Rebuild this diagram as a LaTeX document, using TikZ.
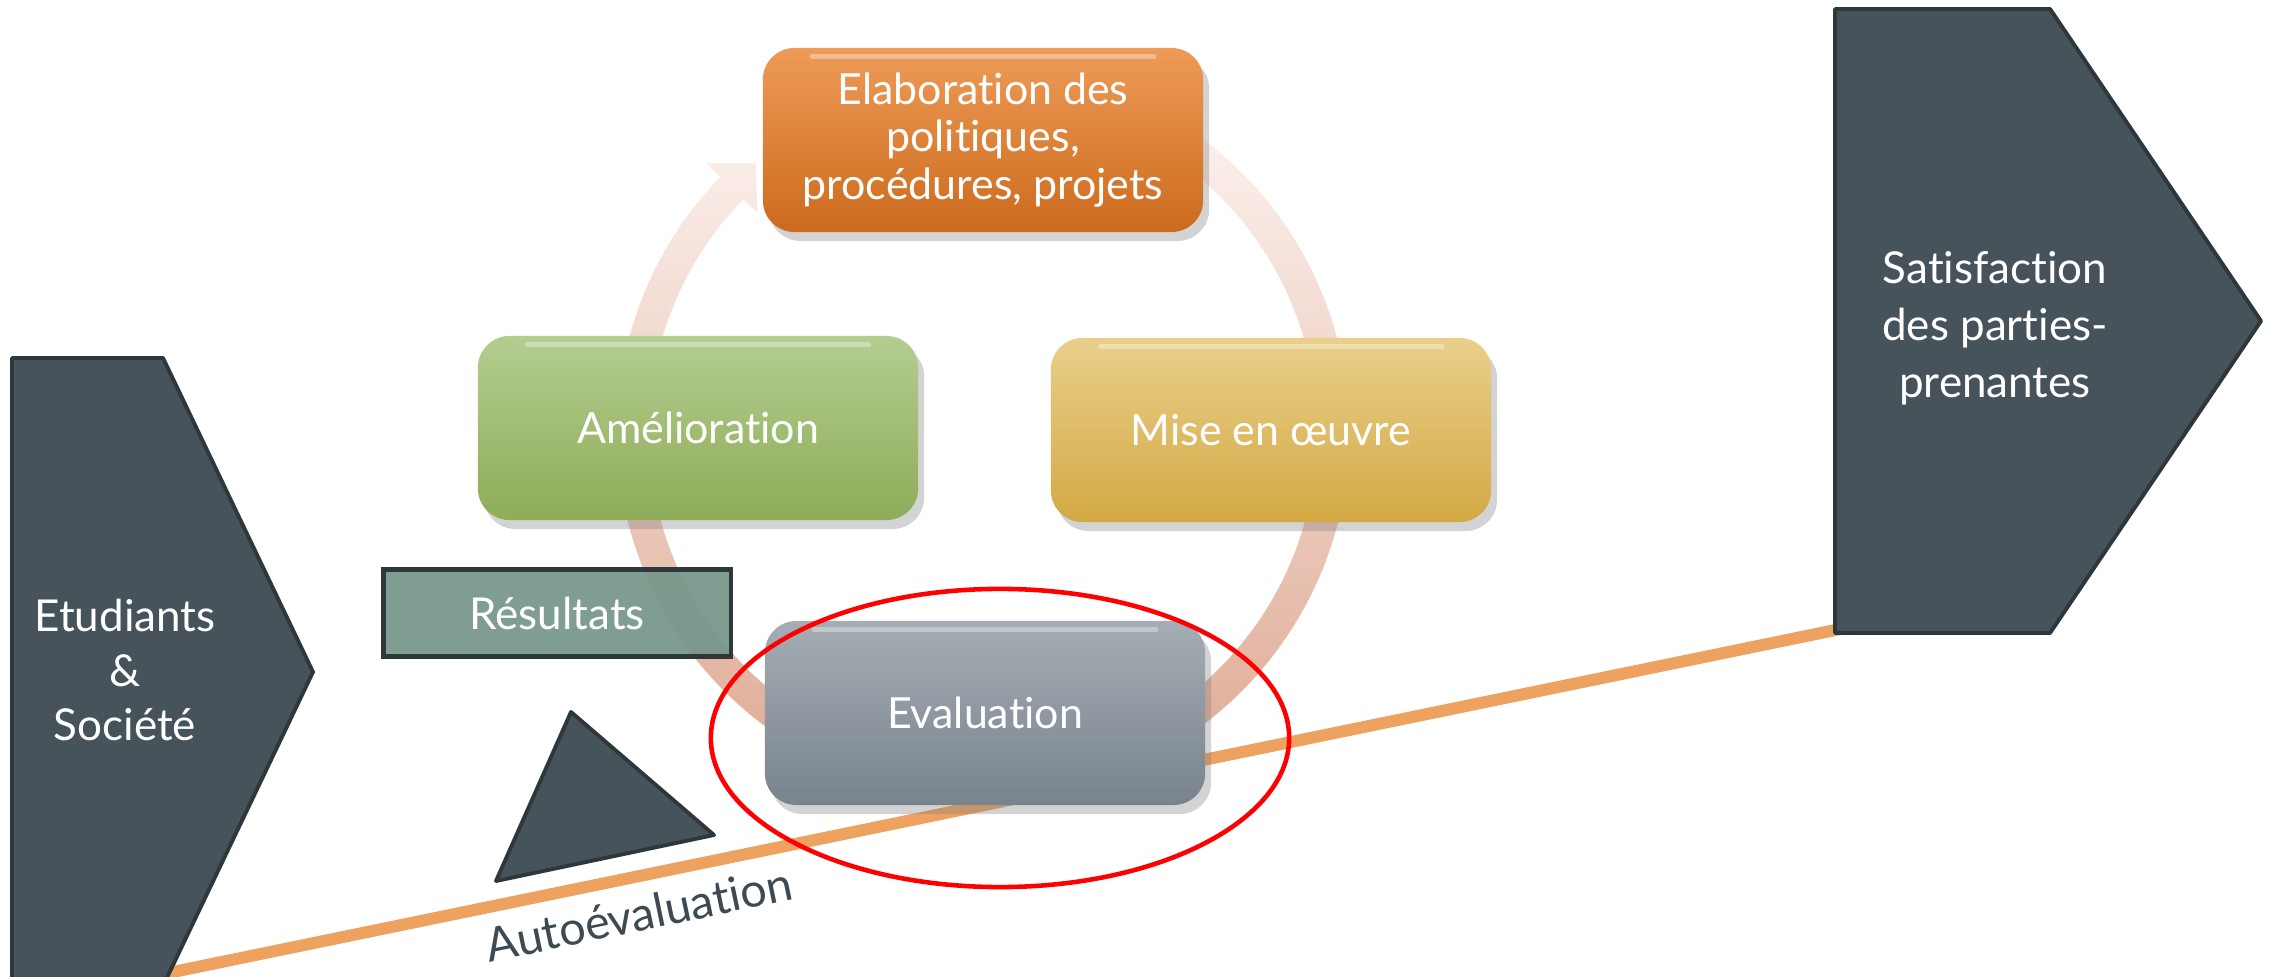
\documentclass[tikz,border=0pt]{standalone}
\usepackage{fontspec}
\setmainfont{Lato}[Ligatures=CommonOff]
\usetikzlibrary{positioning}
\usetikzlibrary{calc}
\usetikzlibrary{shapes.geometric,shadows}

\definecolor{slate}{HTML}{47535A}
\definecolor{slateline}{HTML}{2E373C}
\definecolor{roadcol}{HTML}{EDA25F}
\definecolor{ringtop}{HTML}{FBF0EC}
\definecolor{ringbot}{HTML}{DCA38B}
\definecolor{elabtop}{HTML}{EE9B57}
\definecolor{elabbot}{HTML}{CC6A1D}
\definecolor{ameltop}{HTML}{B4CD90}
\definecolor{amelbot}{HTML}{8EAC58}
\definecolor{misetop}{HTML}{E9CF8B}
\definecolor{misebot}{HTML}{D3A944}
\definecolor{evaltop}{HTML}{A6ADB4}
\definecolor{evalbot}{HTML}{78838D}
\definecolor{resfill}{HTML}{76968A}
\definecolor{autotext}{HTML}{3D4A52}

\tikzstyle{stage}=[rounded corners=9pt,minimum width=4.4cm,minimum height=1.84cm,align=center,text=white,font=\fontsize{12.2}{13.6}\selectfont,
  drop shadow={opacity=0.35,shadow xshift=0.6mm,shadow yshift=-0.9mm},
  path picture={\draw[white,opacity=0.35,line width=1.4pt,line cap=round]
    ([xshift=14pt,yshift=-2.5pt]path picture bounding box.north west) -- ([xshift=-14pt,yshift=-2.5pt]path picture bounding box.north east);}]
\tikzstyle{slab}=[fill=slate,draw=slateline,line width=1.1pt,line join=round]
\tikzstyle{slabtext}=[text=white,align=center,font=\fontsize{12.5}{15.5}\selectfont]
\tikzstyle{result}=[fill=resfill,fill opacity=0.93,text opacity=1,draw=slateline,line width=1.2pt,minimum width=3.47cm,minimum height=0.87cm,text=white,font=\fontsize{12.5}{14}\selectfont]
\tikzstyle{road}=[draw=roadcol,line width=3.4pt]

\begin{document}
\begin{tikzpicture}[x=0.01cm,y=-0.01cm]
  \useasboundingbox (0,0) rectangle (2280,977);

  % orange baseline
  \coordinate (roadstart) at (100,987);
  \coordinate (roadend) at (1850,627);
  \path[road] (roadstart) -- (roadend);

  % circular arrow of the cycle
  \coordinate (C) at (983,432);
  \shade[top color=ringtop,bottom color=ringbot,draw=white,line width=0.5pt]
    ($(C)+(55:3.67cm)$) arc[start angle=55,end angle=-224,radius=3.67cm]
    -- ($(C)+(-224:3.88cm)$) -- ($(C)+(-230:3.52cm)$) -- ($(C)+(-224:3.12cm)$)
    -- ($(C)+(-224:3.33cm)$) arc[start angle=-224,end angle=55,radius=3.33cm] -- cycle;

  % side arrows
  \draw[slab] (12,358) -- (163,358) -- (313,672) -- (163,986) -- (12,986) -- cycle;
  \node[slabtext] (students) at (125,670) {Etudiants\\\&\\Société};
  \draw[slab] (1835,9) -- (2050,9) -- (2261,321) -- (2050,633) -- (1835,633) -- cycle;
  \node[slabtext,font=\fontsize{12.5}{16.2}\selectfont] (stake) at (1995,328) {Satisfaction\\des parties-\\prenantes};
  \draw[slab] (571,712) -- (714,835) -- (496,881) -- cycle;

  % stages of the cycle
  \foreach \pos/\name/\ctop/\cbot/\txt in {{(983,140)/elab/elabtop/elabbot/{Elaboration des\\politiques,\\procédures, projets}},
      {(698,428)/amel/ameltop/amelbot/{Amélioration}}, {(1271,430)/mise/misetop/misebot/{Mise en œuvre}},
      {(985,713)/eval/evaltop/evalbot/{Evaluation}}}
    \node[stage,top color=\ctop,bottom color=\cbot] (\name) at \pos {\txt};

  \node[result] (res) at (557,613) {Résultats};

  \node[draw=red,line width=1.3pt,ellipse,minimum width=5.78cm,minimum height=2.98cm] (focus) at (1000,738) {};

  \node[rotate=11.7,text=autotext,font=\fontsize{13.3}{15}\selectfont,inner sep=1pt] (auto) at (639,914) {Autoévaluation};
\end{tikzpicture}
\end{document}
